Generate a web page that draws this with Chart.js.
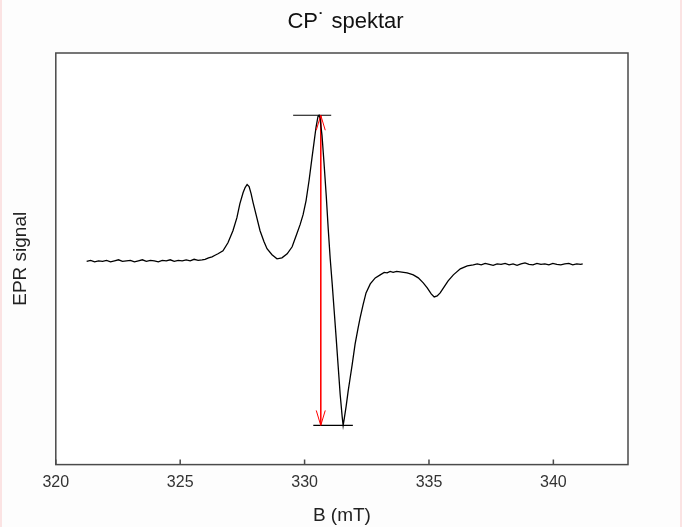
<!DOCTYPE html>
<html><head><meta charset="utf-8">
<script src="https://cdn.jsdelivr.net/npm/chart.js@4/dist/chart.umd.min.js"></script>
<style>
html,body{margin:0;padding:0;background:#fff;}
#wrap{position:relative;width:682px;height:527px;background:#fdfdfd;overflow:hidden;}
#wrap .edge{position:absolute;top:0;width:2px;height:527px;background:#fbe3e3;}
canvas{position:absolute;left:0;top:0;}
</style></head>
<body><div id="wrap"><div class="edge" style="left:0"></div><div class="edge" style="right:0"></div><canvas id="c" width="682" height="527"></canvas></div>
<script>
// Magnetic field (mT)
const fieldB = [
321.24,321.40,321.56,321.72,321.88,322.04,322.20,322.36,322.52,322.68,322.84,323.00,323.16,323.32,323.48,323.64,323.80,323.96,324.12,324.28,324.44,324.60,324.76,324.92,325.08,325.24,325.40,325.56,325.72,325.88,
326.00,326.14,326.28,326.40,326.52,326.72,326.92,327.12,327.28,327.40,327.53,327.61,327.69,327.77,327.85,327.93,328.05,328.21,328.37,328.49,328.69,328.89,
329.09,329.30,329.50,329.66,329.82,329.94,330.06,330.18,330.30,330.38,330.46,330.54,330.58,330.62,330.70,330.78,330.87,330.95,331.03,331.11,331.19,331.27,331.35,331.43,331.51,331.55,
331.59,331.67,331.75,331.83,331.91,332.03,332.15,332.23,332.35,332.47,332.64,332.84,333.04,333.20,333.32,333.44,333.56,333.70,333.84,333.98,334.12,334.25,334.37,334.57,334.77,334.93,
335.09,335.21,335.33,335.45,335.61,335.77,335.98,336.26,336.54,336.78,
336.94,337.10,337.26,337.42,337.58,337.74,337.90,338.06,338.22,338.38,338.54,338.70,338.86,339.02,339.18,339.34,339.50,339.66,339.82,339.98,340.14,340.30,340.46,340.62,340.78,340.94,341.10,341.18
];
// EPR signal (arbitrary units)
const signal = [
0.5,1.5,0,1,0.5,1.5,0,1,2,0.5,1,1.5,0,1,2,0.5,1.5,1,0,1.5,1,2,0.5,1.5,1,2,1,2.5,1.5,2,
2.5,4,5,6.5,8,11,19,31,44,58,69,74,77,75,68,59,47,31,20,13,7,3,
4,8,15,26,37,47,61,81,104,119,134,145,146,143,126,99,66,33,3,-22,-49,-76,-104,-132,-154,-163,
-157,-144,-129,-116,-103,-82,-66,-56,-43,-31,-22,-16,-13,-10.5,-11,-9.5,-10.5,-9.5,-10,-10.5,-11,-12,-13,-16,-21,-26,
-32,-35,-34,-31,-25,-19,-13,-7,-4,-3,
-2,-3,-1.5,-2.5,-3.5,-2,-2.5,-1.5,-3,-2,-3.5,-2,-1,-2.5,-3,-1.5,-2.5,-2,-3,-1.5,-2.5,-3,-2,-1.5,-3,-2,-2.5,-2
];
// Peak-to-peak marker lines
const peakCapB = [329.54, 331.07];
const peakCapV = [146, 146];
const troughCapB = [330.35, 331.94];
const troughCapV = [-163, -163];
const arrowB = [330.65, 330.65];
const arrowV = [146, -163];
// Axes
const xTicks = [320, 325, 330, 335, 340];
const xRange = [320, 343];
const yRange = [-202, 208];

const pts = (xs, ys) => xs.map((x, i) => ({x, y: ys[i]}));
const FONT = "'Liberation Sans', Arial, sans-serif";

const framePlugin = {
  id: 'frame',
  beforeDraw(chart) {
    const {ctx, chartArea: a} = chart;
    ctx.save();
    ctx.fillStyle = '#ffffff';
    ctx.fillRect(a.left, a.top, a.right - a.left, a.bottom - a.top);
    ctx.restore();
  },
  afterDatasetsDraw(chart) {
    const {ctx, chartArea: a, scales} = chart;
    ctx.save();
    ctx.strokeStyle = '#4a4a4a';
    ctx.lineWidth = 1.5;
    ctx.strokeRect(a.left, a.top, a.right - a.left, a.bottom - a.top);
    ctx.beginPath();
    scales.x.ticks.forEach(t => {
      const px = scales.x.getPixelForValue(t.value);
      ctx.moveTo(px, a.bottom);
      ctx.lineTo(px, a.bottom - 5);
    });
    ctx.stroke();
    // arrow heads
    const ax = scales.x.getPixelForValue(arrowB[0]);
    const yt = scales.y.getPixelForValue(arrowV[0]);
    const yb = scales.y.getPixelForValue(arrowV[1]);
    ctx.strokeStyle = '#ff0000';
    ctx.lineWidth = 1;
    ctx.beginPath();
    ctx.moveTo(ax - 4.5, yt + 15); ctx.lineTo(ax, yt); ctx.lineTo(ax + 4.5, yt + 15);
    ctx.moveTo(ax - 4.5, yb - 15); ctx.lineTo(ax, yb); ctx.lineTo(ax + 4.5, yb - 15);
    ctx.stroke();
    ctx.restore();
  }
};

new Chart(document.getElementById('c'), {
  type: 'scatter',
  data: {
    datasets: [
      {data: pts(arrowB, arrowV), showLine: true, borderColor: '#ff0000', borderWidth: 1, pointRadius: 0, order: 3},
      {data: pts(fieldB, signal), showLine: true, borderColor: '#000', borderWidth: 1.3, pointRadius: 0, order: 1},
      {data: pts(peakCapB, peakCapV), showLine: true, borderColor: '#000', borderWidth: 1.2, pointRadius: 0, order: 2},
      {data: pts(troughCapB, troughCapV), showLine: true, borderColor: '#000', borderWidth: 1.2, pointRadius: 0, order: 2}
    ]
  },
  options: {
    responsive: false,
    devicePixelRatio: 1,
    animation: false,
    layout: {padding: {left: 9, right: 0, top: 0, bottom: 0}},
    plugins: {
      legend: {display: false},
      tooltip: {enabled: false},
      title: {display: true, text: 'CP\u02D9 spektar', color: '#111',
        font: {family: FONT, size: 22, weight: 'normal'}, padding: {top: 9, bottom: 17.6}}
    },
    scales: {
      x: {
        type: 'linear', min: xRange[0], max: xRange[1],
        afterBuildTicks: s => { s.ticks = xTicks.map(v => ({value: v})); },
        grid: {display: false, drawTicks: false},
        border: {display: false},
        ticks: {color: '#333', font: {family: FONT, size: 16}, padding: 8, maxRotation: 0},
        title: {display: true, text: 'B (mT)', color: '#222', font: {family: FONT, size: 19}, padding: {top: 4.4, bottom: 0}}
      },
      y: {
        min: yRange[0], max: yRange[1],
        grid: {display: false, drawTicks: false},
        border: {display: false},
        ticks: {display: false},
        title: {display: true, text: 'EPR signal', color: '#222', font: {family: FONT, size: 19}, padding: {top: 0, bottom: 24}}
      },
      y2: {
        position: 'right', min: yRange[0], max: yRange[1],
        grid: {display: false, drawTicks: false},
        border: {display: false},
        ticks: {display: false},
        afterFit: s => { s.width = 54; }
      }
    }
  },
  plugins: [framePlugin]
});
</script>
</body></html>
